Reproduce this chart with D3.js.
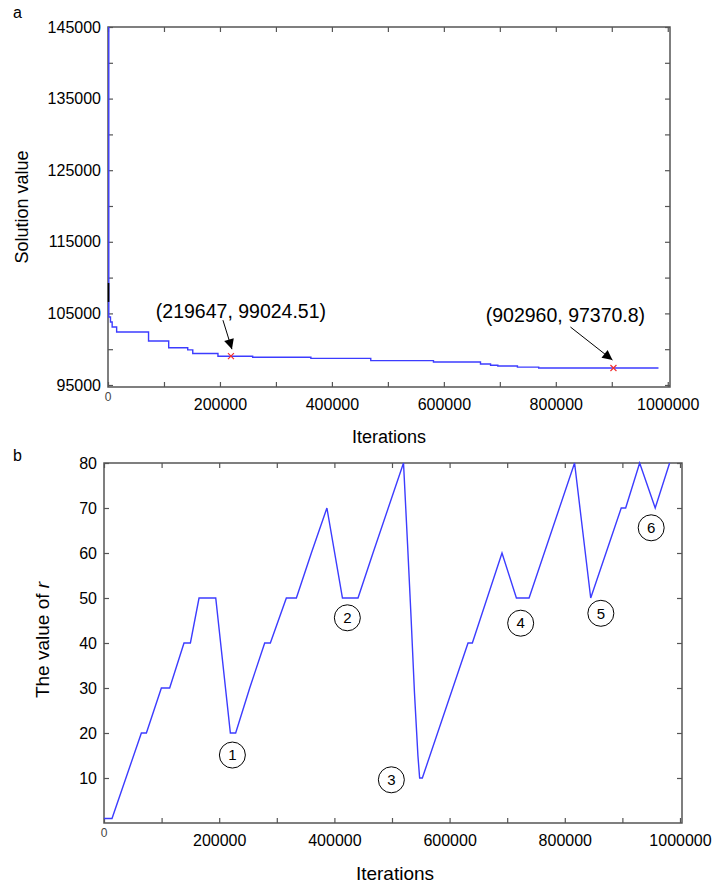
<!DOCTYPE html>
<html>

<head>
    <meta charset="UTF-8" />
    <title>solution value and r</title>
    <style>
        body {
            margin: 0;
            padding: 0;
            background: #fff;
            font-family: 'Liberation Sans', Arial, sans-serif;
        }

        svg text {
            fill: #000;
        }
    </style>
</head>

<body>
    <div class="container"></div>

    <script src="https://cdnjs.cloudflare.com/ajax/libs/d3/7.8.5/d3.min.js"></script>
    <script>
        // chart a: best solution value (step curve)
        const solIter = [0, 0, 3000, 6000, 14000, 71000, 107000, 141000, 150000, 195000, 257000, 361000, 468000, 580000, 664000, 682000, 695000, 730000, 768000, 982000];
        const solVal = [145000, 104500, 103800, 103100, 102400, 101150, 100200, 99900, 99400, 99024.51, 98870, 98720, 98400, 98214, 97935, 97755, 97655, 97500, 97370.8, 97370.8];
        const blackIter = [1000, 1000];
        const blackVal = [109250, 106600];
        const marksA = [
            { it: 219647, val: 99024.51, label: '(219647, 99024.51)' },
            { it: 902960, val: 97370.8, label: '(902960, 97370.8)' }
        ];
        const yTicksA = [95000, 100000, 105000, 110000, 115000, 120000, 125000, 130000, 135000, 140000, 145000];
        const xTicks = [0, 100000, 200000, 300000, 400000, 500000, 600000, 700000, 800000, 900000, 1000000];

        // chart b: value of r
        const rIter = [0, 13900, 64900, 73600, 99600, 114000, 138900, 150000, 165000, 194000, 219400, 228600, 253000, 279000, 288800, 316600, 334000, 360000, 387000, 414000, 441000, 467000, 520000, 527000, 533000, 539000, 545000, 548000, 552700, 632000, 639500, 691000, 716000, 738000, 817000, 845000, 898000, 905700, 930000, 957000, 982000];
        const rVal = [1, 1, 20, 20, 30, 30, 40, 40, 50, 50, 20, 20, 30, 40, 40, 50, 50, 60, 70, 50, 50, 60, 80, 62, 46, 29, 15, 10, 10, 40, 40, 60, 50, 50, 80, 50, 70, 70, 80, 70, 80];
        const yTicksB = [10, 20, 30, 40, 50, 60, 70, 80];
        const circleIter = [222900, 422500, 498900, 723400, 862600, 950000];
        const circleR = [15.1, 45.6, 9.6, 44.4, 46.6, 65.6];
        const circleLabels = ['1', '2', '3', '4', '5', '6'];

        const W = 727, H = 886;
        const axisColor = '#555';
        const lineColor = '#3c3cff';

        const svg = d3.select('.container').append('svg')
            .attr('width', W)
            .attr('height', H);

        svg.append('defs').append('marker')
            .attr('id', 'head')
            .attr('viewBox', '0 0 10 10')
            .attr('refX', 10).attr('refY', 5)
            .attr('markerWidth', 13).attr('markerHeight', 10)
            .attr('markerUnits', 'userSpaceOnUse')
            .attr('orient', 'auto')
            .append('path')
            .attr('d', 'M0,0L10,5L0,10z')
            .attr('fill', '#000');

        function frame(g, x, y, yTicks, yFmt) {
            const [x0, x1] = x.range();
            const [y0, y1] = y.range();

            const styleAxis = sel => {
                sel.select('.domain').remove();
                sel.selectAll('line').attr('stroke', axisColor).attr('stroke-width', 1.2);
                sel.selectAll('text').attr('font-size', 16).attr('font-family', "'Liberation Sans', Arial, sans-serif");
            };

            g.append('g').attr('transform', `translate(${x0},0)`)
                .call(d3.axisLeft(y).tickValues(yTicks).tickSize(-5).tickSizeOuter(0).tickPadding(7).tickFormat(yFmt))
                .call(styleAxis);
            g.append('g').attr('transform', `translate(${x1},0)`)
                .call(d3.axisRight(y).tickValues(yTicks).tickSize(-5).tickSizeOuter(0).tickFormat(''))
                .call(styleAxis);

            const xFmt = d => (d > 0 && d % 200000 === 0) ? d : '';
            g.append('g').attr('transform', `translate(0,${y0})`)
                .call(d3.axisBottom(x).tickValues(xTicks).tickSize(-5).tickSizeOuter(0).tickPadding(12).tickFormat(xFmt))
                .call(styleAxis);
            g.append('g').attr('transform', `translate(0,${y1})`)
                .call(d3.axisTop(x).tickValues(xTicks).tickSize(-5).tickSizeOuter(0).tickFormat(''))
                .call(styleAxis);

            // small zero at the origin
            g.append('text')
                .attr('x', x(0)).attr('y', y0 + 14)
                .attr('text-anchor', 'middle')
                .attr('font-size', 12)
                .style('fill', '#444')
                .text('0');

            g.append('rect')
                .attr('x', x0).attr('y', y1)
                .attr('width', x1 - x0).attr('height', y0 - y1)
                .attr('fill', 'none')
                .attr('stroke', axisColor)
                .attr('stroke-width', 1.5);
        }

        // ---------- chart a ----------
        const xA = d3.scaleLinear().domain([0, 1004000]).range([108, 670]);
        const yA = d3.scaleLinear().domain([94720, 145000]).range([387, 27]);
        const gA = svg.append('g');

        frame(gA, xA, yA, yTicksA, d => d % 10000 === 5000 ? d : '');

        const solData = solIter.map((d, i) => ({ x: d, y: solVal[i] }));
        gA.append('path')
            .attr('d', d3.line().x(d => xA(d.x) + 0.8).y(d => yA(d.y)).curve(d3.curveStepAfter)(solData))
            .attr('fill', 'none')
            .attr('stroke', lineColor)
            .attr('stroke-width', 1.4);

        gA.append('path')
            .attr('d', d3.line().x(d => xA(d.x)).y(d => yA(d.y))(blackIter.map((d, i) => ({ x: d, y: blackVal[i] }))))
            .attr('stroke', '#000')
            .attr('stroke-width', 1.6);

        const offs = [
            { tx: 10, ty: -45, ax: -8, ay: -36, bx: 1, by: -7 },
            { tx: -48, ty: -53, ax: -43, ay: -41, bx: -1, by: -8 }
        ];
        marksA.forEach((m, i) => {
            const px = xA(m.it), py = yA(m.val), o = offs[i];
            gA.append('path')
                .attr('d', `M${px - 3},${py - 3}L${px + 3},${py + 3}M${px - 3},${py + 3}L${px + 3},${py - 3}`)
                .attr('stroke', '#f03030')
                .attr('stroke-width', 1.2);
            gA.append('line')
                .attr('x1', px + o.ax).attr('y1', py + o.ay)
                .attr('x2', px + o.bx).attr('y2', py + o.by)
                .attr('stroke', '#000')
                .attr('stroke-width', 1)
                .attr('marker-end', 'url(#head)');
            gA.append('text')
                .attr('x', px + o.tx).attr('y', py + o.ty)
                .attr('dy', '0.35em')
                .attr('text-anchor', 'middle')
                .attr('font-size', 19.5)
                .text(m.label);
        });

        gA.append('text').attr('x', 389).attr('y', 437).attr('dy', '0.35em')
            .attr('text-anchor', 'middle').attr('font-size', 18).text('Iterations');
        gA.append('text').attr('transform', 'translate(22,207) rotate(-90)').attr('dy', '0.35em')
            .attr('text-anchor', 'middle').attr('font-size', 18).text('Solution value');
        svg.append('text').attr('x', 13).attr('y', 18).attr('font-size', 16).text('a');

        // ---------- chart b ----------
        const xB = d3.scaleLinear().domain([0, 1003500]).range([104, 682]);
        const yB = d3.scaleLinear().domain([0, 80]).range([823, 463]);
        const gB = svg.append('g');

        frame(gB, xB, yB, yTicksB, d => d);

        const rData = rIter.map((d, i) => ({ x: d, y: rVal[i] }));
        gB.append('path')
            .attr('d', d3.line().x(d => xB(d.x)).y(d => yB(d.y))(rData))
            .attr('fill', 'none')
            .attr('stroke', lineColor)
            .attr('stroke-width', 1.4);

        circleIter.forEach((it, i) => {
            const cx = xB(it), cy = yB(circleR[i]);
            gB.append('circle')
                .attr('cx', cx).attr('cy', cy).attr('r', 13)
                .attr('fill', '#fff')
                .attr('stroke', '#000')
                .attr('stroke-width', 1);
            gB.append('text')
                .attr('x', cx).attr('y', cy).attr('dy', '0.35em')
                .attr('text-anchor', 'middle')
                .attr('font-size', 15)
                .text(circleLabels[i]);
        });

        gB.append('text').attr('x', 395).attr('y', 873).attr('dy', '0.35em')
            .attr('text-anchor', 'middle').attr('font-size', 19).text('Iterations');
        const yl = gB.append('text').attr('transform', 'translate(42,640) rotate(-90)').attr('dy', '0.35em')
            .attr('text-anchor', 'middle').attr('font-size', 19);
        yl.append('tspan').text('The value of ');
        yl.append('tspan').attr('font-style', 'italic').text('r');
        svg.append('text').attr('x', 13).attr('y', 461).attr('font-size', 16).text('b');
    </script>
</body>

</html>
